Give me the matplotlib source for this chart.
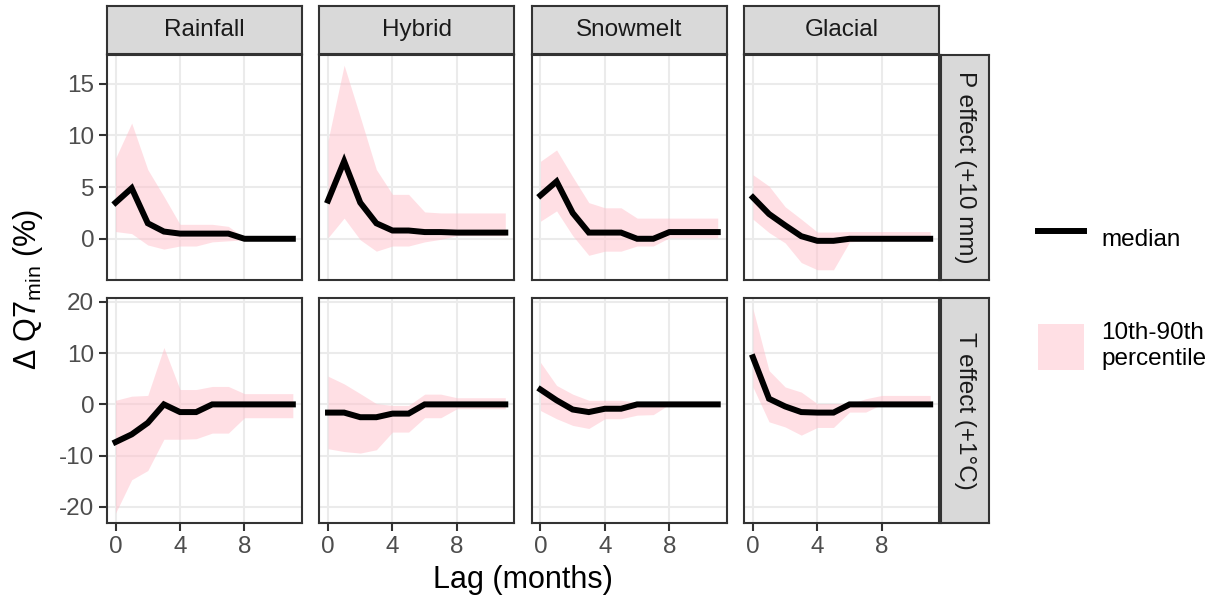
import numpy as np
import matplotlib
matplotlib.use('Agg')
import matplotlib.pyplot as plt
from matplotlib.lines import Line2D
from matplotlib.patches import Patch

plt.rcParams['font.family'] = ['Liberation Sans', 'DejaVu Sans']
plt.rcParams['mathtext.fontset'] = 'custom'
plt.rcParams['mathtext.rm'] = 'Liberation Sans'
plt.rcParams['mathtext.it'] = 'Liberation Sans:italic'
plt.rcParams['axes.unicode_minus'] = False

lags = np.arange(12)
regimes = ['Rainfall', 'Hybrid', 'Snowmelt', 'Glacial']
effects = ['P effect (+10 mm)', 'T effect (+1°C)']
row_ticks = [[0, 5, 10, 15], [-20, -10, 0, 10, 20]]
x_ticks = [0, 4, 8]

# P effect (+10 mm)
rain_p_med = [3.5, 4.9, 1.5, 0.7, 0.5, 0.5, 0.5, 0.5, 0.0, 0.0, 0.0, 0.0]
rain_p_hi = [7.8, 11.2, 6.7, 4.1, 1.4, 1.4, 1.4, 1.2, 0.1, 0.1, 0.1, 0.1]
rain_p_lo = [0.7, 0.5, -0.6, -1.0, -0.7, -0.7, -0.3, -0.2, -0.1, -0.1, -0.1, -0.1]

hyb_p_med = [3.7, 7.5, 3.5, 1.5, 0.8, 0.8, 0.65, 0.65, 0.6, 0.6, 0.6, 0.6]
hyb_p_hi = [9.5, 16.8, 11.8, 6.7, 4.3, 4.3, 2.6, 2.5, 2.5, 2.5, 2.5, 2.5]
hyb_p_lo = [0.1, 2.0, -0.1, -1.2, -0.7, -0.7, -0.3, -0.05, 0.3, 0.3, 0.3, 0.3]

snow_p_med = [4.2, 5.55, 2.5, 0.6, 0.6, 0.6, 0.0, 0.0, 0.65, 0.65, 0.65, 0.65]
snow_p_hi = [7.5, 8.6, 6.0, 3.5, 3.0, 3.0, 2.0, 2.0, 2.0, 2.0, 2.0, 2.0]
snow_p_lo = [1.7, 2.7, 0.3, -1.6, -1.2, -1.2, -0.7, -0.7, 0.1, 0.1, 0.1, 0.1]

glac_p_med = [4.0, 2.4, 1.3, 0.25, -0.2, -0.2, 0.0, 0.0, 0.0, 0.0, 0.0, 0.0]
glac_p_hi = [6.2, 5.1, 3.1, 1.9, 0.65, 0.65, 0.7, 0.7, 0.7, 0.7, 0.7, 0.7]
glac_p_lo = [1.9, 0.6, -0.4, -2.3, -3.0, -3.0, -0.3, -0.2, -0.2, -0.2, -0.2, -0.2]

# T effect (+1 C)
rain_t_med = [-7.35, -5.85, -3.6, 0.0, -1.5, -1.5, 0.0, 0.0, 0.0, 0.0, 0.0, 0.0]
rain_t_hi = [0.8, 1.6, 1.75, 11.1, 2.9, 2.9, 3.5, 3.5, 2.1, 2.1, 2.1, 2.1]
rain_t_lo = [-21.2, -14.7, -12.9, -6.8, -6.8, -6.7, -5.6, -5.6, -2.6, -2.6, -2.6, -2.6]

hyb_t_med = [-1.6, -1.6, -2.5, -2.5, -1.8, -1.8, 0.0, 0.0, 0.0, 0.0, 0.0, 0.0]
hyb_t_hi = [5.5, 4.0, 2.1, 0.15, -0.2, -0.2, 2.0, 2.0, 1.3, 1.3, 1.3, 1.3]
hyb_t_lo = [-8.65, -9.2, -9.5, -8.85, -5.4, -5.4, -2.6, -2.6, -0.85, -0.85, -0.85, -0.85]

snow_t_med = [2.9, 0.8, -1.0, -1.5, -0.85, -0.85, 0.0, 0.0, 0.0, 0.0, 0.0, 0.0]
snow_t_hi = [8.2, 3.7, 2.0, 0.8, 0.8, 0.8, 0.45, 0.15, 0.0, 0.0, 0.0, 0.0]
snow_t_lo = [-1.2, -2.8, -4.1, -4.7, -2.8, -2.8, -2.1, -2.0, 0.0, 0.0, 0.0, 0.0]

glac_t_med = [9.2, 1.1, -0.4, -1.5, -1.6, -1.6, 0.0, 0.0, 0.0, 0.0, 0.0, 0.0]
glac_t_hi = [18.7, 6.6, 3.4, 2.4, 0.15, 0.15, 0.1, 1.1, 1.75, 1.75, 1.75, 1.75]
glac_t_lo = [3.4, -3.4, -4.4, -6.0, -4.5, -4.5, -1.5, -1.5, 0.0, 0.0, 0.0, 0.0]

panels = [
    [(rain_p_med, rain_p_lo, rain_p_hi), (hyb_p_med, hyb_p_lo, hyb_p_hi),
     (snow_p_med, snow_p_lo, snow_p_hi), (glac_p_med, glac_p_lo, glac_p_hi)],
    [(rain_t_med, rain_t_lo, rain_t_hi), (hyb_t_med, hyb_t_lo, hyb_t_hi),
     (snow_t_med, snow_t_lo, snow_t_hi), (glac_t_med, glac_t_lo, glac_t_hi)],
]

W, H = 1219, 603
EDGE = '#333333'


def px_rect(left, top, width, height):
    return [left / W, 1 - (top + height) / H, width / W, height / H]


def style_strip(ax, text, rotation=0):
    ax.set_facecolor('#D9D9D9')
    ax.set_xticks([])
    ax.set_yticks([])
    for s in ax.spines.values():
        s.set_color(EDGE)
        s.set_linewidth(1.5)
    ax.text(0.5, 0.5, text, transform=ax.transAxes, ha='center', va='center',
            rotation=rotation, fontsize=17.5, color='#1A1A1A')


def main():
    fig = plt.figure(figsize=(W / 100, H / 100), dpi=100)
    col_left = [106.7 + 212.45 * i for i in range(4)]
    row_top = [55, 298.3]
    pw, ph = 195, 225

    for r in range(2):
        lo_all = min(min(p[1]) for p in panels[r])
        hi_all = max(max(p[2]) for p in panels[r])
        pad = 0.05 * (hi_all - lo_all)
        for c in range(4):
            med, lo, hi = panels[r][c]
            ax = fig.add_axes(px_rect(col_left[c], row_top[r], pw, ph))
            ax.fill_between(lags, lo, hi, color='#FFC0CB', alpha=0.5, lw=0, zorder=2)
            ax.plot(lags, med, color='black', lw=4.3, zorder=3, solid_joinstyle='miter')
            ax.set_xlim(-0.55, 11.55)
            ax.set_ylim(lo_all - pad, hi_all + pad)
            ax.set_xticks(x_ticks)
            ax.set_yticks(row_ticks[r])
            ax.grid(True, color='#EBEBEB', lw=1.5, zorder=0)
            ax.set_axisbelow(True)
            for s in ax.spines.values():
                s.set_color(EDGE)
                s.set_linewidth(1.5)
            ax.tick_params(length=6, width=1.5, color=EDGE, labelcolor='#4D4D4D',
                           labelsize=17.5, pad=3)
            if c > 0:
                ax.tick_params(axis='y', left=False, labelleft=False)
            if r == 0:
                ax.tick_params(axis='x', bottom=False, labelbottom=False)
                sax = fig.add_axes(px_rect(col_left[c], 6, pw, 48))
                style_strip(sax, regimes[c])
        rax = fig.add_axes(px_rect(940.7, row_top[r], 48.6, ph))
        style_strip(rax, effects[r], rotation=-90)

    fig.text(523 / W, 1 - 580 / H, 'Lag (months)', ha='center', va='center', fontsize=22)
    fig.text(28 / W, 1 - 289 / H, 'Δ Q7$_{\\mathrm{min}}$ (%)', ha='center', va='center',
             rotation=90, fontsize=22)

    handles = [Line2D([], [], color='black', lw=4.3),
               Patch(facecolor='#FFC0CB', alpha=0.5, edgecolor='none')]
    fig.legend(handles, ['median', '10th-90th\npercentile'], loc='center left',
               bbox_to_anchor=(1016 / W, 1 - 293 / H), frameon=False, fontsize=17.5,
               handlelength=1.9, handleheight=2.5, labelspacing=2.5, handletextpad=0.7)

    fig.savefig('out.png', dpi=100)
    plt.close(fig)


if __name__ == '__main__':
    main()
